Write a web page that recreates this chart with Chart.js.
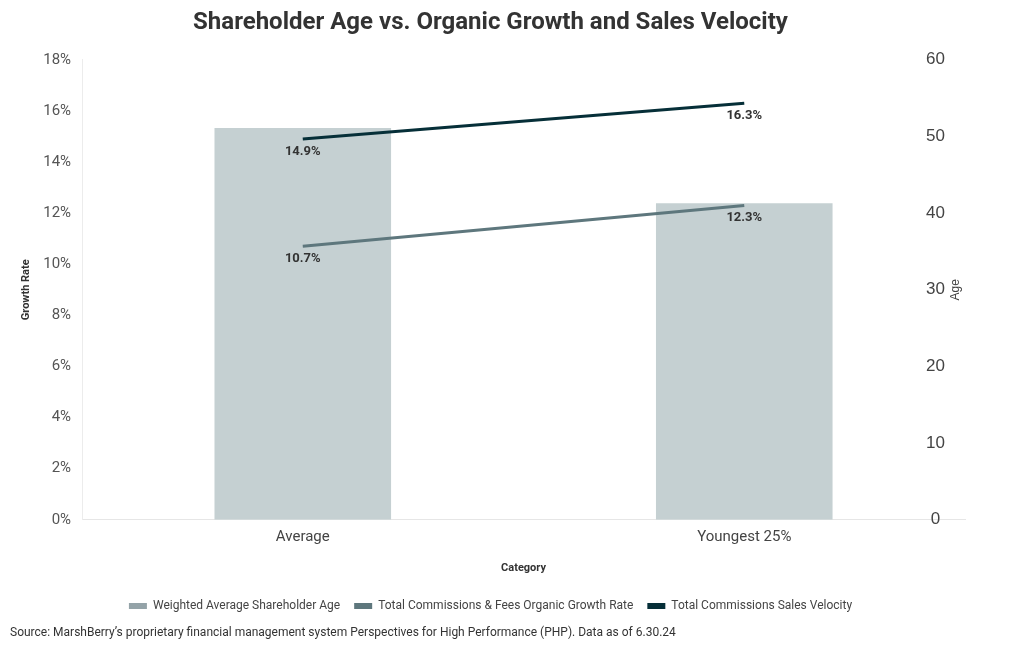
<!DOCTYPE html>
<html>
<head>
<meta charset="utf-8">
<script src="https://cdn.jsdelivr.net/npm/chart.js@4"></script>
<style>
  body { margin: 0; background: #fff; }
  #wrap { position: relative; width: 1020px; height: 650px; }
  #source { position: absolute; left: 10px; top: 625px; font: 12px Roboto, sans-serif; color: #333; white-space: nowrap; }
</style>
</head>
<body>
<div id="wrap">
  <canvas id="myChart" width="1020" height="650"></canvas>
  <div id="source">Source: MarshBerry’s proprietary financial management system Perspectives for High Performance (PHP). Data as of 6.30.24</div>
</div>
<script>
var categories = ['Average', 'Youngest 25%'];
var shareholderAge = [51.1, 41.3];
var organicGrowth = [10.7, 12.3];
var salesVelocity = [14.9, 16.3];
var growthTicks = [0, 2, 4, 6, 8, 10, 12, 14, 16, 18];
var ageTicks = [0, 10, 20, 30, 40, 50, 60];

// % value under each line point, plus the right axis "Age" title (reads bottom-up)
var pointLabels = {
    id: 'pointLabels',
    afterDatasetsDraw: function (chart) {
        var c = chart.ctx;
        c.save();
        c.font = 'bold 13px Roboto, sans-serif';
        c.fillStyle = '#333';
        c.textAlign = 'center';
        c.textBaseline = 'top';
        chart.data.datasets.forEach(function (ds, i) {
            if (ds.type !== 'line') return;
            chart.getDatasetMeta(i).data.forEach(function (pt, j) {
                c.fillText(ds.data[j].toFixed(1) + '%', pt.x, pt.y + 6);
            });
        });
        var area = chart.chartArea;
        c.translate(area.right - 9, (area.top + area.bottom) / 2);
        c.rotate(-Math.PI / 2);
        c.font = '12px "Liberation Sans", sans-serif';
        c.fillStyle = '#444';
        c.textBaseline = 'middle';
        c.fillText('Age', 0, 0);
        c.restore();
    }
};

var ctx = document.getElementById('myChart').getContext('2d');
var myChart = new Chart(ctx, {
    type: 'bar',
    data: {
        labels: categories,
        datasets: [{
            type: 'line',
            label: 'Total Commissions Sales Velocity',
            data: salesVelocity,
            yAxisID: 'y',
            borderColor: '#062f38',
            backgroundColor: '#062f38',
            borderWidth: 3,
            pointRadius: 0,
            order: 0
        }, {
            type: 'line',
            label: 'Total Commissions & Fees Organic Growth Rate',
            data: organicGrowth,
            yAxisID: 'y',
            borderColor: '#5e777d',
            backgroundColor: '#5e777d',
            borderWidth: 3,
            pointRadius: 0,
            order: 1
        }, {
            label: 'Weighted Average Shareholder Age',
            data: shareholderAge,
            yAxisID: 'y1',
            backgroundColor: '#c5d0d2',
            borderWidth: 0,
            barPercentage: 0.4,
            categoryPercentage: 1,
            order: 2
        }]
    },
    options: {
        responsive: false,
        animation: false,
        layout: { padding: { left: 16, right: 55, top: 9, bottom: 28 } },
        scales: {
            x: {
                grid: { display: false, drawTicks: true, tickLength: 6 },
                border: { color: '#e6e6e6' },
                ticks: { color: '#444', font: { family: 'Roboto', size: 15 }, padding: 2 },
                title: { display: true, text: 'Category', color: '#333', font: { family: 'Roboto', size: 11, weight: 'bold' }, padding: { top: 14, bottom: 11 } }
            },
            y: {
                position: 'left',
                min: 0,
                max: 18,
                afterBuildTicks: function (axis) { axis.ticks = growthTicks.map(function (v) { return { value: v }; }); },
                grid: { display: false, drawTicks: true, tickLength: 5 },
                border: { color: '#ececec' },
                ticks: { color: '#555', font: { family: 'Roboto', size: 15 }, padding: 6, callback: function (v) { return v + '%'; } },
                title: { display: true, text: 'Growth Rate', color: '#333', font: { family: 'Roboto', size: 11, weight: 'bold' }, padding: { bottom: 4 } }
            },
            y1: {
                position: 'right',
                min: 0,
                max: 60,
                afterBuildTicks: function (axis) { axis.ticks = ageTicks.map(function (v) { return { value: v }; }); },
                grid: { display: false, drawTicks: false },
                border: { display: false },
                ticks: { color: '#444', font: { family: 'Liberation Sans', size: 17 }, padding: -20, mirror: true, crossAlign: 'center' }
            }
        },
        plugins: {
            title: {
                display: true,
                text: 'Shareholder Age vs. Organic Growth and Sales Velocity',
                color: '#333',
                font: { family: 'Roboto', size: 24, weight: 'bold' },
                padding: { top: 0, bottom: 22 }
            },
            legend: {
                position: 'bottom',
                reverse: true,
                labels: {
                    boxWidth: 18,
                    boxHeight: 6,
                    padding: 14,
                    color: '#444',
                    font: { family: 'Roboto', size: 12 },
                    generateLabels: function (chart) {
                        var items = Chart.defaults.plugins.legend.labels.generateLabels(chart);
                        items.forEach(function (it) {
                            if (it.datasetIndex === 2) { it.fillStyle = '#94a3a8'; }
                            it.lineWidth = 0;
                        });
                        return items;
                    }
                }
            },
            tooltip: { enabled: false }
        }
    },
    plugins: [pointLabels]
});
</script>
</body>
</html>
